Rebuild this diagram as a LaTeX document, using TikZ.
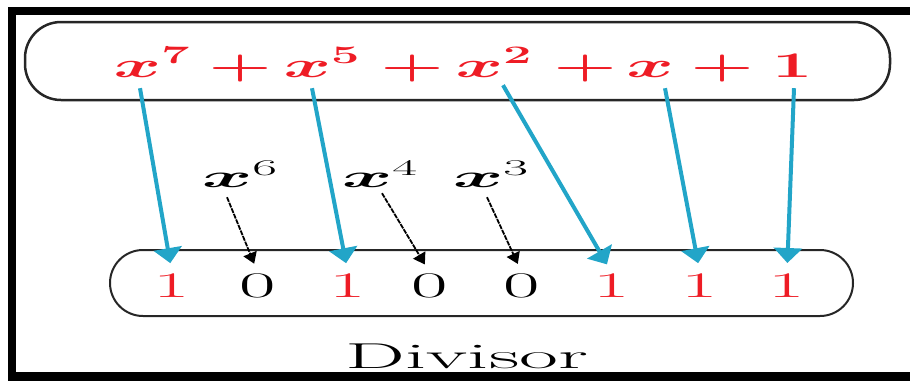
\documentclass[tikz,border=0pt]{standalone}
\usepackage{fix-cm}
\usepackage{graphicx}
\usepackage{bm}
\usetikzlibrary{arrows.meta}
\definecolor{PolyRed}{HTML}{EE1C25}
\definecolor{PolyBlue}{HTML}{22A5C8}
\newcommand{\wide}[2][2]{\scalebox{#1}[1]{#2}}

\begin{document}
\begin{tikzpicture}[
  x=1pt, y=-1pt,
  term/.style={text=PolyRed, inner sep=0pt, anchor=base,
    font=\fontsize{36}{40}\selectfont\boldmath},
  bit/.style={inner sep=0pt, anchor=base, font=\fontsize{36}{40}\selectfont},
  gap/.style={inner sep=0pt, anchor=base, font=\fontsize{32}{36}\selectfont},
  frame/.style={draw=black!85, line width=2.5pt, rounded corners=36pt, inner sep=0pt},
  coef/.style={-{Triangle[width=28pt,length=15pt]}, line width=4pt, draw=PolyBlue, shorten >=10pt},
  zero/.style={-{Triangle[width=14pt,length=11pt]}, line width=1.8pt, shorten >=10pt,
    dash pattern=on 5pt off 1pt}
]
\useasboundingbox (0,0) rectangle (910,381);
% outer frame (open on the right)
\fill (8,7) rectangle (910,15);
\fill (8,7) rectangle (16,381);
\fill (8,372) rectangle (910,381);

% polynomial
\node[frame, minimum width=865pt, minimum height=78pt] (polybox) at (457.5,61) {};
\node[term] (t7) at (152,77) {\wide{$x^7$}};
\node[term] (p1) at (240,77) {\wide{$+$}};
\node[term] (t5) at (322,77) {\wide{$x^5$}};
\node[term] (p2) at (412,77) {\wide{$+$}};
\node[term] (t2) at (494,77) {\wide{$x^2$}};
\node[term] (p3) at (585,77) {\wide{$+$}};
\node[term] (t1) at (650,77) {\wide{$x$}};
\node[term] (p4) at (722,77) {\wide{$+$}};
\node[term] (t0) at (792,77) {\wide{$1$}};

% missing terms
\node[gap] (g6) at (240,187) {\wide[2.4]{$\bm{x}^6$}};
\node[gap] (g4) at (380,187) {\wide[2.4]{$\bm{x}^4$}};
\node[gap] (g3) at (491,187) {\wide[2.4]{$\bm{x}^3$}};

% divisor bits
\node[frame, line width=2pt, rounded corners=33pt, minimum width=743pt, minimum height=66pt] (divbox) at (481.5,283) {};
\node[bit, text=PolyRed] (d1) at (172,297) {\wide[2.2]{1}};
\node[bit] (d2) at (258,297) {\wide[2.2]{0}};
\node[bit, text=PolyRed] (d3) at (348,297) {\wide[2.2]{1}};
\node[bit] (d4) at (430,297) {\wide[2.2]{0}};
\node[bit] (d5) at (522,297) {\wide[2.2]{0}};
\node[bit, text=PolyRed] (d6) at (612,297) {\wide[2.2]{1}};
\node[bit, text=PolyRed] (d7) at (700,297) {\wide[2.2]{1}};
\node[bit, text=PolyRed] (d8) at (787,297) {\wide[2.2]{1}};
\node[bit] (divlabel) at (467,368) {\wide[2.35]{Divisor}};

\draw[coef] ([xshift=-12pt,yshift=-11pt]t7.south) -- (d1.north);
\draw[coef] ([xshift=-10pt,yshift=-11pt]t5.south) -- (d3.north);
\draw[coef] ([xshift=9pt,yshift=-8pt]t2.south) -- (d6.north);
\draw[coef] ([xshift=15pt,yshift=-11pt]t1.south) -- (d7.north);
\draw[coef] ([xshift=2pt,yshift=-11pt]t0.south) -- (d8.north);
\draw[zero] ([xshift=-13pt,yshift=-10pt]g6.south) -- (d2.north);
\draw[zero] ([xshift=2pt,yshift=-6pt]g4.south) -- (d4.north);
\draw[zero] ([xshift=-4pt,yshift=-10pt]g3.south) -- (d5.north);
\end{tikzpicture}
\end{document}
